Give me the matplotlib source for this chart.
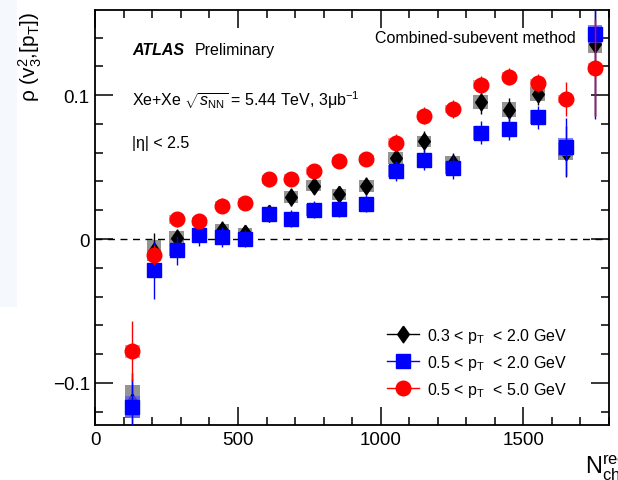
import numpy as np
from matplotlib import pyplot as plt
from matplotlib.lines import Line2D
from matplotlib.patches import Rectangle
from matplotlib.ticker import MultipleLocator

plt.rcParams['font.family'] = ['Liberation Sans', 'DejaVu Sans']
plt.rcParams['mathtext.fontset'] = 'custom'
plt.rcParams['mathtext.rm'] = 'Liberation Sans'
plt.rcParams['mathtext.it'] = 'Liberation Sans:italic'
plt.rcParams['mathtext.bf'] = 'Liberation Sans:bold'

# N_ch^rec bins
nch = [130, 205, 285, 365, 445, 525, 608, 685, 765, 855, 950, 1052, 1153, 1252, 1350, 1450, 1550, 1648, 1750]

# 0.3 < pT < 2.0 GeV
rho_a = [-0.113, -0.008, 0.0007, 0.004, 0.0064, 0.004, 0.0178, 0.0292, 0.0372, 0.031, 0.0368,
         0.0563, 0.0678, 0.053, 0.0951, 0.090, 0.1009, 0.0608, 0.1356]
err_a = [0.02, 0.012, 0.006, 0.006, 0.006, 0.006, 0.006, 0.006, 0.006, 0.006, 0.006,
         0.007, 0.007, 0.007, 0.008, 0.008, 0.008, 0.018, 0.05]
sys_a = [0.0116, 0.007, 0.005, 0.004, 0.004, 0.004, 0.004, 0.004, 0.004, 0.004, 0.004,
         0.004, 0.004, 0.005, 0.005, 0.005, 0.005, 0.006, 0.006]

# 0.5 < pT < 2.0 GeV
rho_b = [-0.117, -0.0218, -0.0079, 0.003, 0.0014, 0.0002, 0.0176, 0.0141, 0.0203, 0.021, 0.0245,
         0.0472, 0.0551, 0.0495, 0.0738, 0.0766, 0.0847, 0.0639, 0.1426]
err_b = [0.02, 0.02, 0.01, 0.008, 0.007, 0.006, 0.006, 0.006, 0.006, 0.006, 0.006,
         0.007, 0.007, 0.008, 0.008, 0.008, 0.008, 0.02, 0.059]
sys_b = [0.0077, 0.005, 0.004, 0.004, 0.004, 0.004, 0.004, 0.004, 0.004, 0.004, 0.004,
         0.004, 0.004, 0.004, 0.005, 0.005, 0.005, 0.006, 0.006]

# 0.5 < pT < 5.0 GeV
rho_c = [-0.078, -0.0111, 0.0136, 0.0122, 0.0233, 0.0252, 0.0414, 0.0419, 0.0474, 0.0542, 0.0556,
         0.0669, 0.0858, 0.0903, 0.1074, 0.1129, 0.1085, 0.0974, 0.1192]
err_c = [0.021, 0.007, 0.005, 0.005, 0.005, 0.005, 0.005, 0.005, 0.005, 0.005, 0.005,
         0.006, 0.006, 0.006, 0.006, 0.006, 0.006, 0.012, 0.034]
sys_c = [0.0046, 0.003, 0.003, 0.003, 0.003, 0.003, 0.003, 0.003, 0.003, 0.003, 0.003,
         0.003, 0.003, 0.003, 0.003, 0.003, 0.003, 0.003, 0.003]

labels = ["0.3 < p$_{\\mathrm{T}}$  < 2.0 GeV",
          "0.5 < p$_{\\mathrm{T}}$  < 2.0 GeV",
          "0.5 < p$_{\\mathrm{T}}$  < 5.0 GeV"]

diamond = [(0, 1), (0.7, 0), (0, -1), (-0.7, 0), (0, 1)]

series = [
    (rho_a, err_a, sys_a, 'black', '#707070', diamond, 12),
    (rho_b, err_b, sys_b, '#0000ff', '#5a5aff', 's', 10),
    (rho_c, err_c, sys_c, '#ff0000', '#ff7a7a', 'o', 10.5),
]

fig = plt.figure(figsize=(6.18, 4.81), dpi=100)
# faint slide background at the left edge
fig.patches.append(Rectangle((0, 0.36), 0.028, 0.64, transform=fig.transFigure,
                             facecolor='#f5f8fc', edgecolor='none', zorder=0))
ax = fig.add_axes([0.1542, 0.1137, 0.8312, 0.8634])

ax.axhline(0, color='black', lw=1, ls=(0, (5, 4)), zorder=1)

x = np.array(nch)
handles = []
for i, (y, e, s, col, bcol, mk, ms) in enumerate(series):
    for xi, yi, si in zip(x, y, s):
        ax.add_patch(Rectangle((xi - 25, yi - si), 50, 2 * si, facecolor=bcol,
                               edgecolor='none', alpha=0.75, zorder=2 + i))
    ax.errorbar(x, y, yerr=e, fmt='none', ecolor=col, elinewidth=1, capsize=0, zorder=2.5 + i)
    ax.plot(x, y, ls='none', marker=mk, ms=ms, color=col, mec=col, zorder=2.6 + i)
    handles.append(Line2D([], [], color=col, lw=1, marker=mk, ms=ms, mec=col))

ax.set_xlim(0, 1800)
ax.set_ylim(-0.1295, 0.1592)
ax.xaxis.set_major_locator(MultipleLocator(500))
ax.xaxis.set_minor_locator(MultipleLocator(100))
ax.yaxis.set_major_locator(MultipleLocator(0.1))
ax.yaxis.set_minor_locator(MultipleLocator(0.02))
ax.set_yticks([-0.1, 0, 0.1])
ax.set_yticklabels(['\u22120.1', '0', '0.1'])
ax.tick_params(which='both', direction='in', top=True, right=True, width=1.1,
               labelsize=13.5, pad=4)
ax.tick_params(which='major', length=13)
ax.tick_params(which='minor', length=5.5)
for sp in ax.spines.values():
    sp.set_linewidth(1.3)

ax.legend(handles, labels, loc='upper left', bbox_to_anchor=(0.555, 0.255),
          frameon=False, fontsize=11.5, handlelength=2.0, handletextpad=0.5,
          labelspacing=0.5, borderaxespad=0)

ax.text(0.072, 0.905, "ATLAS", transform=ax.transAxes, fontsize=11.5, va='center',
        fontweight='bold', fontstyle='italic')
ax.text(0.1935, 0.905, "Preliminary", transform=ax.transAxes, fontsize=11.5, va='center')
ax.text(0.072, 0.785, "Xe+Xe $\\sqrt{s_{\\mathrm{NN}}}$ = 5.44 TeV, 3\u03bcb$^{\\mathrm{-1}}$",
        transform=ax.transAxes, fontsize=11.5, va='center')
ax.text(0.072, 0.68, "|\u03b7| < 2.5", transform=ax.transAxes, fontsize=11.5, va='center')
ax.text(0.935, 0.935, "Combined-subevent method", transform=ax.transAxes,
        fontsize=11.5, va='center', ha='right')

fig.text(30 / 618, 1 - 12 / 481, "\u03c1 (v$_{3}^{2}$,[p$_{\\mathrm{T}}$])", rotation=90,
         ha='center', va='top', fontsize=15)
fig.text(585 / 618, 1 - 475 / 481, "N$_{\\mathrm{ch}}^{\\mathrm{rec}}$", ha='left',
         va='baseline', fontsize=17)

fig.savefig('out.png', dpi=100)
